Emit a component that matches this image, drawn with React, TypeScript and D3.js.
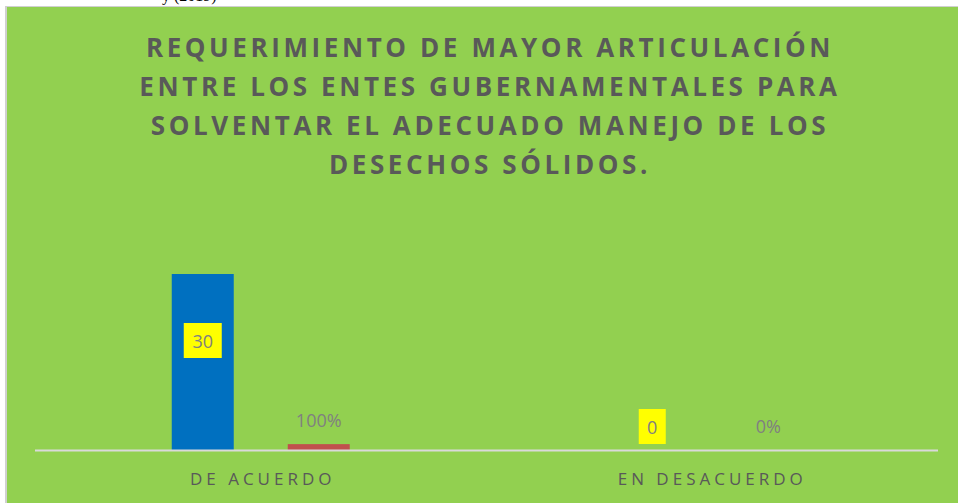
import React from "react";
import * as d3 from "d3";

const categories = ["DE ACUERDO", "EN DESACUERDO"];
const frequency = [30, 0];
const percentage = [1, 0];
const percentLabels = ["100%", "0%"];
const titleLines = [
  "REQUERIMIENTO DE MAYOR ARTICULACIÓN",
  "ENTRE LOS ENTES GUBERNAMENTALES PARA",
  "SOLVENTAR EL ADECUADO MANEJO DE LOS",
  "DESECHOS SÓLIDOS.",
];

const W = 958;
const H = 503;
const GREEN = "#92D050";
const BLUE = "#0070C0";
const RED = "#C0504D";
const TEXT = "#595959";
const LABEL = "#808080";

export default function App() {
  const plotLeft = 36;
  const plotRight = 935;
  const axisY = 450;
  const bw = 62;
  const gap = 54;
  const groupW = bw * 2 + gap;

  const x0 = d3.scaleBand<string>().domain(categories).range([plotLeft, plotRight]).paddingInner(0).paddingOuter(0);
  const x1 = d3.scaleBand<string>().domain(["f", "p"]).range([0, groupW]).paddingInner(gap / (bw + gap)).paddingOuter(0);
  const y = d3.scaleLinear().domain([0, 30]).range([axisY, 274]);
  const groupOffset = (x0.bandwidth() - groupW) / 2;

  return (
    <svg width={W} height={H} style={{ position: "absolute", left: 0, top: 0 }} fontFamily="'Open Sans', sans-serif">
      <rect x={0} y={0} width={W} height={H} fill="#ffffff" />
      <text x={162} y={1} fontFamily="'Liberation Serif', 'Times New Roman', serif" fontSize={16} fill="#000">y (2019)</text>
      <rect x={5} y={6} width={W} height={H} fill="#D0D0D0" />
      <rect x={7} y={7} width={W} height={H} fill={GREEN} />
      {titleLines.map((t, i) => (
        <text key={i} x={490} y={57 + i * 39} textAnchor="middle" fontSize={26} fontWeight={700} letterSpacing={3.6} fill={TEXT}>
          {t}
        </text>
      ))}
      {categories.map((c, i) => {
        const gx = (x0(c) as number) + groupOffset;
        const fx = gx + (x1("f") as number);
        const px = gx + (x1("p") as number);
        const fTop = y(frequency[i]);
        const pTop = y(percentage[i]);
        const fcx = fx + bw / 2;
        const pcx = px + bw / 2;
        const fLabelY = frequency[i] > 0 ? (fTop + axisY) / 2 - 21.5 : axisY - 23.5;
        const boxW = String(frequency[i]).length > 1 ? 38 : 27;
        return (
          <g key={c}>
            <rect x={fx} y={fTop} width={bw} height={axisY - fTop} fill={BLUE} />
            <rect x={px} y={pTop} width={bw} height={axisY - pTop} fill={RED} />
            <rect x={fcx - boxW / 2} y={fLabelY - 17.5} width={boxW} height={35} fill="#FFFF00" />
            <text x={fcx} y={fLabelY + 7.5} textAnchor="middle" fontSize={18} fill={LABEL}>{frequency[i]}</text>
            <text x={pcx} y={pTop - 17} textAnchor="middle" fontSize={18} fill={LABEL}>{percentLabels[i]}</text>
            <text x={(x0(c) as number) + x0.bandwidth() / 2 + 2} y={485} textAnchor="middle" fontSize={17} letterSpacing={4} fill={TEXT}>
              {c}
            </text>
          </g>
        );
      })}
      <line x1={plotLeft - 1} x2={plotRight + 3} y1={axisY + 0.5} y2={axisY + 0.5} stroke="#D9D9D9" strokeWidth={2} />
    </svg>
  );
}
